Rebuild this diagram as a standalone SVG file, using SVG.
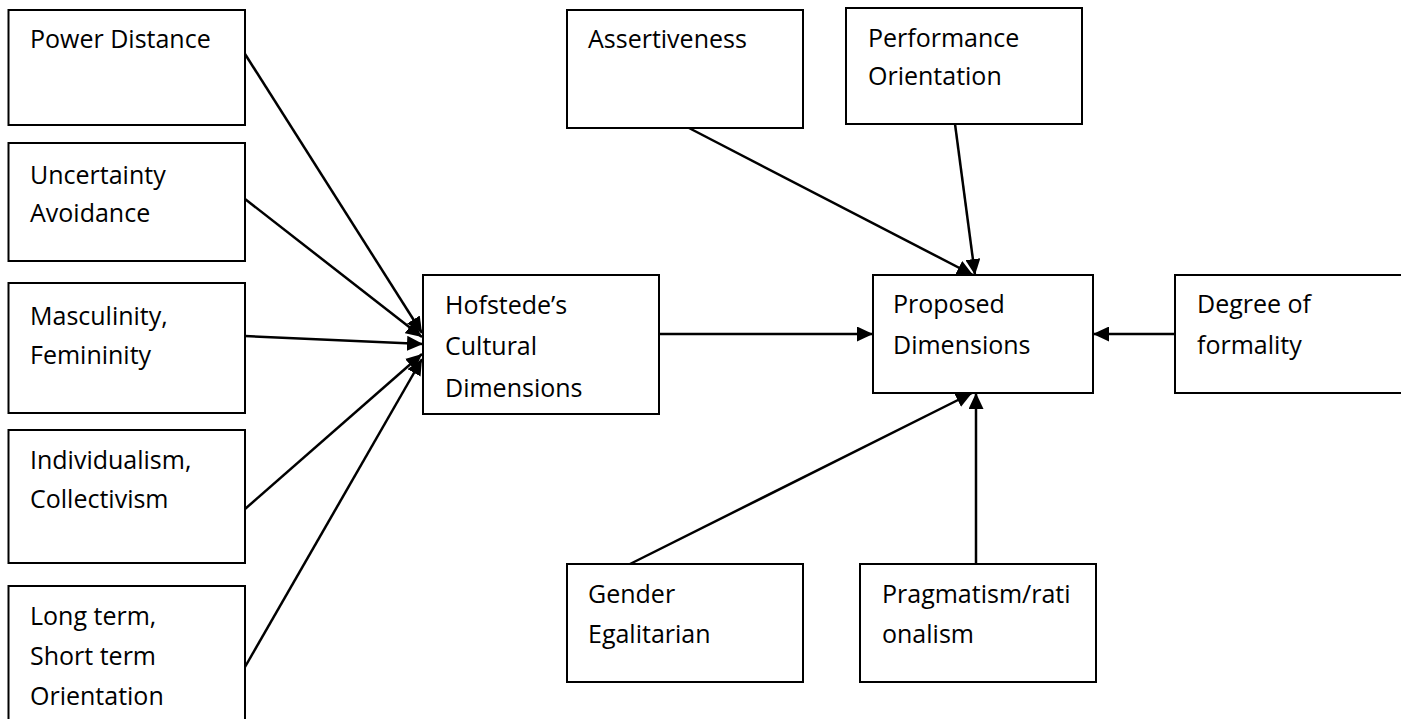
<svg xmlns="http://www.w3.org/2000/svg" width="1401" height="719" viewBox="0 0 1401 719">
<style>
.box{fill:#fff;stroke:#000;stroke-width:2}
.t{font-family:"Open Sans","Liberation Sans",sans-serif;font-size:25px;fill:#000}
.c{stroke:#000;stroke-width:2.5;fill:none;marker-end:url(#ah)}
</style>
<defs>
<marker id="ah" markerUnits="userSpaceOnUse" markerWidth="17" markerHeight="15" refX="16" refY="7.5" orient="auto">
<path d="M0,0 L16,7.5 L0,15 z" fill="#000"/>
</marker>
</defs>
<rect width="1401" height="719" fill="#fff"/>
<g id="connectors">
<line class="c" x1="245" y1="54" x2="422" y2="333"/>
<line class="c" x1="245" y1="199" x2="422" y2="337"/>
<line class="c" x1="245" y1="336" x2="423" y2="344"/>
<line class="c" x1="245" y1="509" x2="422" y2="354"/>
<line class="c" x1="245" y1="667" x2="422" y2="359"/>
<line class="c" x1="659" y1="334" x2="873" y2="334"/>
<line class="c" x1="1175" y1="334" x2="1093" y2="334"/>
<line class="c" x1="689" y1="128" x2="973" y2="275"/>
<line class="c" x1="955" y1="124" x2="975" y2="275"/>
<line class="c" x1="630" y1="564" x2="972" y2="393"/>
<line class="c" x1="976" y1="564" x2="976" y2="393"/>
</g>
<g id="power-distance">
<rect class="box" x="8.5" y="10" width="236.5" height="115"/>
<text class="t" x="30" y="48">Power Distance</text>
</g>
<g id="uncertainty-avoidance">
<rect class="box" x="8.5" y="143" width="236.5" height="118"/>
<text class="t" x="30" y="184">Uncertainty</text>
<text class="t" x="30" y="222">Avoidance</text>
</g>
<g id="masculinity-femininity">
<rect class="box" x="8.5" y="283" width="236.5" height="130"/>
<text class="t" x="30" y="325">Masculinity,</text>
<text class="t" x="30" y="364">Femininity</text>
</g>
<g id="individualism-collectivism">
<rect class="box" x="8.5" y="430" width="236.5" height="133"/>
<text class="t" x="30" y="469">Individualism,</text>
<text class="t" x="30" y="508">Collectivism</text>
</g>
<g id="long-short-term">
<rect class="box" x="8.5" y="586" width="236.5" height="140"/>
<text class="t" x="30" y="625">Long term,</text>
<text class="t" x="30" y="665">Short term</text>
<text class="t" x="30" y="705">Orientation</text>
</g>
<g id="hofstede">
<rect class="box" x="423" y="275" width="236" height="139"/>
<text class="t" x="445" y="314">Hofstede’s</text>
<text class="t" x="445" y="355">Cultural</text>
<text class="t" x="445" y="397">Dimensions</text>
</g>
<g id="assertiveness">
<rect class="box" x="567" y="10" width="236" height="118"/>
<text class="t" x="588" y="48">Assertiveness</text>
</g>
<g id="performance-orientation">
<rect class="box" x="846" y="8" width="236" height="116"/>
<text class="t" x="868" y="47">Performance</text>
<text class="t" x="868" y="85">Orientation</text>
</g>
<g id="proposed">
<rect class="box" x="873" y="275" width="220" height="118"/>
<text class="t" x="893" y="313">Proposed</text>
<text class="t" x="893" y="354">Dimensions</text>
</g>
<g id="degree-of-formality">
<rect class="box" x="1175" y="275" width="240" height="118"/>
<text class="t" x="1197" y="313">Degree of</text>
<text class="t" x="1197" y="354">formality</text>
</g>
<g id="gender-egalitarian">
<rect class="box" x="567" y="564" width="236" height="118"/>
<text class="t" x="588" y="603">Gender</text>
<text class="t" x="588" y="643">Egalitarian</text>
</g>
<g id="pragmatism">
<rect class="box" x="860" y="564" width="236" height="118"/>
<text class="t" x="882" y="603">Pragmatism/rati</text>
<text class="t" x="882" y="643">onalism</text>
</g>
</svg>
